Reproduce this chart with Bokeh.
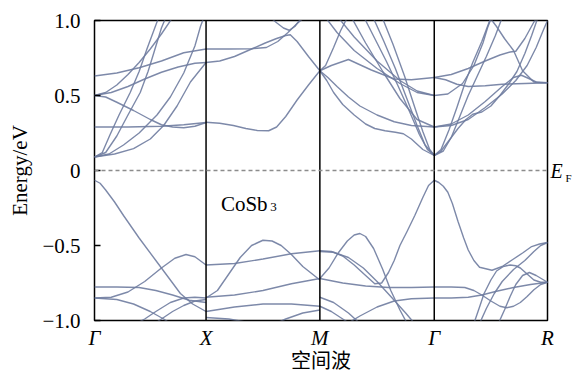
from bokeh.plotting import figure
from bokeh.models import Range1d, FixedTicker, Span, Label, LinearAxis
from bokeh.embed import file_html
from bokeh.resources import INLINE

# high-symmetry points along the k-path
K_POS = [0.0, 0.985, 1.99, 3.0, 4.0]
K_LABELS = ["Γ", "X", "M", "Γ", "R"]
Y_TICKS = [-1.0, -0.5, 0.0, 0.5, 1.0]
Y_LABELS = ["−1.0", "−0.5", "0", "0.5", "1.0"]

# bands per segment: (fraction along segment, energy in eV)
GX_BANDS = [
    ([0, 0.2, 0.4, 0.6, 0.8, 1.0], [0.63, 0.65, 0.685, 0.73, 0.785, 0.81]),
    ([0, 0.15, 0.3, 0.45, 0.6, 0.75, 0.9, 1.0], [0.50, 0.52, 0.56, 0.61, 0.655, 0.69, 0.715, 0.72]),
    ([0, 0.1, 0.2, 0.35, 0.5, 0.6, 0.7, 0.8, 0.9, 1.0], [0.50, 0.49, 0.455, 0.40, 0.34, 0.305, 0.29, 0.285, 0.295, 0.32]),
    ([0, 0.3, 0.6, 0.8, 1.0], [0.29, 0.29, 0.295, 0.305, 0.32]),
    ([0, 0.07, 0.14, 0.22, 0.32, 0.4, 0.47, 0.53, 0.58], [0.09, 0.12, 0.24, 0.37, 0.52, 0.66, 0.81, 0.93, 1.03]),
    ([0, 0.1, 0.2, 0.3, 0.41, 0.48, 0.53, 0.6, 0.65], [0.09, 0.12, 0.23, 0.37, 0.52, 0.66, 0.78, 0.95, 1.04]),
    ([0, 0.13, 0.26, 0.4, 0.56, 0.68, 0.8, 0.9, 0.95, 1.0], [0.09, 0.11, 0.17, 0.25, 0.37, 0.49, 0.65, 0.83, 0.96, 1.06]),
    ([0, 0.18, 0.35, 0.5, 0.62, 0.74, 0.86, 1.0], [0.09, 0.11, 0.146, 0.21, 0.30, 0.43, 0.59, 0.72]),
    ([0, 0.1, 0.2, 0.3, 0.4, 0.5, 0.6, 0.7], [0.50, 0.52, 0.57, 0.64, 0.72, 0.81, 0.91, 1.02]),
    ([0, 0.05, 0.1, 0.18, 0.26, 0.4, 0.56, 0.7, 0.77, 0.88, 1.0], [-0.065, -0.085, -0.13, -0.21, -0.30, -0.45, -0.61, -0.75, -0.82, -0.89, -0.94]),
    ([0, 0.2, 0.4, 0.55, 0.7, 0.85, 1.0], [-0.777, -0.777, -0.78, -0.80, -0.83, -0.865, -0.88]),
    ([0, 0.15, 0.3, 0.45, 0.6, 0.72, 0.82, 0.9, 1.0], [-0.85, -0.845, -0.81, -0.74, -0.65, -0.585, -0.56, -0.575, -0.63]),
    ([0, 0.2, 0.35, 0.5, 0.62, 0.7], [-0.85, -0.86, -0.89, -0.94, -0.99, -1.03]),
    ([0.35, 0.45, 0.55, 0.68, 0.8, 0.9, 1.0], [-1.03, -0.99, -0.94, -0.88, -0.85, -0.845, -0.85]),
    ([0.5, 0.6, 0.7, 0.8, 0.9, 1.0], [-1.04, -0.99, -0.94, -0.90, -0.87, -0.86]),
]

XM_BANDS = [
    ([0, 0.12, 0.25, 0.4, 0.52, 0.62, 0.7, 0.74, 0.8, 0.9, 1.0], [0.72, 0.73, 0.76, 0.81, 0.85, 0.88, 0.90, 0.905, 0.86, 0.76, 0.665]),
    ([0, 0.2, 0.4, 0.53, 0.63, 0.72, 0.8, 0.88], [0.81, 0.81, 0.812, 0.82, 0.86, 0.92, 0.98, 1.03]),
    ([0.55, 0.62, 0.68, 0.73, 0.78, 0.84], [1.03, 0.985, 0.95, 0.935, 0.96, 1.02]),
    ([0, 0.12, 0.24, 0.35, 0.45, 0.55, 0.62, 0.7, 0.8, 0.9, 1.0], [0.322, 0.315, 0.30, 0.28, 0.267, 0.265, 0.29, 0.36, 0.47, 0.57, 0.665]),
    ([0, 0.1, 0.2, 0.3, 0.4, 0.5, 0.58, 0.66, 0.75, 0.85, 1.0], [-0.85, -0.80, -0.69, -0.58, -0.50, -0.465, -0.47, -0.50, -0.56, -0.64, -0.73]),
    ([0, 0.25, 0.5, 0.75, 1.0], [-0.63, -0.62, -0.59, -0.555, -0.535]),
    ([0, 0.25, 0.5, 0.75, 1.0], [-0.845, -0.83, -0.80, -0.755, -0.72]),
    ([0, 0.25, 0.5, 0.75, 1.0], [-0.94, -0.91, -0.89, -0.89, -0.905]),
    ([0, 0.2, 0.35, 0.5], [-0.98, -0.99, -1.01, -1.04]),
    ([0.55, 0.7, 0.85, 1.0], [-1.04, -0.99, -0.95, -0.93]),
]

MG_BANDS = [
    ([0, 0.05, 0.12, 0.18, 0.24], [0.665, 0.70, 0.82, 0.93, 1.02]),
    ([0.05, 0.15, 0.3, 0.5, 0.7, 0.85, 1.0], [1.02, 0.92, 0.80, 0.68, 0.58, 0.52, 0.50]),
    ([0.15, 0.3, 0.5, 0.7, 0.85, 1.0], [1.03, 0.89, 0.73, 0.60, 0.53, 0.50]),
    ([0, 0.1, 0.25, 0.45, 0.65, 0.8, 1.0], [0.665, 0.70, 0.74, 0.67, 0.61, 0.605, 0.62]),
    ([0, 0.07, 0.15, 0.25, 0.35, 0.5, 0.65, 0.8, 1.0], [0.665, 0.62, 0.56, 0.49, 0.43, 0.37, 0.325, 0.30, 0.29]),
    ([0, 0.06, 0.12, 0.2, 0.3, 0.4, 0.48, 0.57, 0.66, 0.73, 0.8, 0.9, 1.0], [0.665, 0.60, 0.52, 0.44, 0.37, 0.31, 0.28, 0.265, 0.255, 0.245, 0.21, 0.14, 0.10]),
    ([0.38, 0.48, 0.58, 0.68, 0.78, 0.87, 0.94, 1.0], [1.03, 0.88, 0.73, 0.57, 0.40, 0.24, 0.14, 0.10]),
    ([0.46, 0.56, 0.66, 0.76, 0.85, 0.92, 1.0], [1.03, 0.86, 0.68, 0.48, 0.30, 0.17, 0.10]),
    ([0.54, 0.64, 0.74, 0.83, 0.9, 0.96, 1.0], [1.03, 0.84, 0.63, 0.42, 0.26, 0.14, 0.10]),
    ([0.27, 0.4, 0.55, 0.7, 0.85, 1.0], [1.03, 0.85, 0.66, 0.48, 0.34, 0.29]),
    ([0, 0.1, 0.2, 0.3, 0.4, 0.48, 0.54, 0.6, 0.65, 0.7, 0.76, 0.83, 0.9, 0.95, 1.0], [-0.535, -0.54, -0.57, -0.63, -0.70, -0.755, -0.75, -0.68, -0.60, -0.50, -0.41, -0.30, -0.18, -0.10, -0.065]),
    ([0, 0.08, 0.16, 0.24, 0.3, 0.35, 0.4, 0.47, 0.55, 0.62, 0.7, 0.77], [-0.72, -0.65, -0.55, -0.47, -0.43, -0.42, -0.44, -0.52, -0.66, -0.80, -0.93, -1.03]),
    ([0, 0.12, 0.25, 0.38, 0.5, 0.62, 0.75, 0.85], [-0.54, -0.545, -0.58, -0.65, -0.74, -0.84, -0.95, -1.04]),
    ([0, 0.2, 0.4, 0.6, 0.8, 1.0], [-0.72, -0.75, -0.77, -0.78, -0.78, -0.777]),
    ([0.22, 0.35, 0.5, 0.65, 0.8, 1.0], [-1.03, -0.97, -0.91, -0.87, -0.855, -0.85]),
    ([0, 0.12, 0.25, 0.38], [-0.845, -0.88, -0.95, -1.04]),
    ([0, 0.1, 0.2, 0.3], [-0.905, -0.94, -0.99, -1.04]),
]

GR_BANDS = [
    ([0, 0.06, 0.13, 0.2, 0.27, 0.34, 0.42, 0.5], [0.10, 0.14, 0.27, 0.42, 0.58, 0.72, 0.86, 1.02]),
    ([0, 0.08, 0.15, 0.22, 0.3, 0.38, 0.46, 0.54, 0.6], [0.10, 0.13, 0.22, 0.35, 0.50, 0.63, 0.76, 0.90, 1.02]),
    ([0, 0.06, 0.12, 0.21, 0.28, 0.34, 0.42, 0.5, 0.58, 0.66, 0.73, 0.8, 0.86, 0.92], [0.10, 0.13, 0.19, 0.28, 0.34, 0.375, 0.39, 0.43, 0.50, 0.58, 0.66, 0.78, 0.90, 1.03]),
    ([0, 0.15, 0.3, 0.45, 0.6, 0.72, 0.82, 0.9, 0.96, 1.0], [0.29, 0.30, 0.34, 0.42, 0.51, 0.60, 0.70, 0.82, 0.93, 1.0]),
    ([0, 0.15, 0.3, 0.45, 0.6, 0.7, 0.77, 0.83, 0.9, 1.0], [0.29, 0.31, 0.37, 0.46, 0.56, 0.62, 0.635, 0.615, 0.59, 0.585]),
    ([0, 0.12, 0.25, 0.35, 0.43, 0.47, 0.5, 0.55, 0.62, 0.7, 0.78, 0.88, 0.94, 1.0], [0.50, 0.51, 0.58, 0.70, 0.85, 0.95, 1.01, 0.96, 0.88, 0.80, 0.665, 0.59, 0.585, 0.585]),
    ([0, 0.15, 0.3, 0.45, 0.58, 0.67, 0.72, 0.8, 0.88, 0.93], [0.62, 0.64, 0.68, 0.73, 0.77, 0.79, 0.795, 0.88, 0.99, 1.04]),
    ([0, 0.1, 0.2, 0.3, 0.45, 0.6, 0.8, 1.0], [0.62, 0.605, 0.575, 0.56, 0.565, 0.575, 0.58, 0.585]),
    ([0, 0.04, 0.08, 0.12, 0.16, 0.21, 0.26, 0.3, 0.35, 0.4, 0.51, 0.6, 0.69, 0.78, 0.86, 0.93, 1.0], [-0.065, -0.08, -0.105, -0.145, -0.22, -0.34, -0.45, -0.53, -0.60, -0.645, -0.665, -0.64, -0.595, -0.55, -0.507, -0.49, -0.48]),
    ([0.35, 0.4, 0.44, 0.5, 0.55, 0.61, 0.67, 0.72, 0.76, 0.82, 0.88, 0.94, 1.0], [-1.02, -0.91, -0.82, -0.73, -0.67, -0.64, -0.63, -0.635, -0.65, -0.69, -0.73, -0.745, -0.745]),
    ([0.4, 0.46, 0.53, 0.6, 0.7, 0.8, 0.88, 0.94, 1.0], [-1.02, -0.92, -0.82, -0.74, -0.66, -0.60, -0.54, -0.50, -0.48]),
    ([0.56, 0.62, 0.67, 0.72, 0.78, 0.84, 0.9, 1.0], [-1.03, -0.93, -0.84, -0.76, -0.70, -0.68, -0.70, -0.745]),
    ([0, 0.15, 0.27, 0.35, 0.42, 0.5, 0.58, 0.64, 0.7, 0.76, 0.82, 0.88, 0.94, 1.0], [-0.777, -0.777, -0.78, -0.80, -0.83, -0.87, -0.905, -0.915, -0.905, -0.88, -0.84, -0.795, -0.76, -0.745]),
    ([0, 0.15, 0.3, 0.42, 0.55, 0.7, 0.85, 1.0], [-0.85, -0.85, -0.845, -0.83, -0.805, -0.78, -0.76, -0.745]),
]

SEGMENTS = [GX_BANDS, XM_BANDS, MG_BANDS, GR_BANDS]

p = figure(width=574, height=374, x_range=Range1d(0, 4), y_range=Range1d(-1, 1),
           output_backend="svg", toolbar_location=None,
           min_border_left=94, min_border_right=26, min_border_top=20, min_border_bottom=53)
p.background_fill_color = "white"
p.border_fill_color = "white"
p.outline_line_color = "black"
p.outline_line_width = 1.5
p.xgrid.visible = False
p.ygrid.visible = False

xs_all, ys_all = [], []
for i, bands in enumerate(SEGMENTS):
    k0, k1 = K_POS[i], K_POS[i + 1]
    for t, e in bands:
        xs_all.append([k0 + ti * (k1 - k0) for ti in t])
        ys_all.append(list(e))
p.multi_line(xs_all, ys_all, line_color="#6f7ca0", line_width=1.4, line_alpha=0.9, line_join="round")

for k in K_POS[1:4]:
    p.add_layout(Span(location=k, dimension="height", line_color="black", line_width=1.5))
p.add_layout(Span(location=0, dimension="width", line_color="#8c8c8c", line_width=1.3, line_dash="4 3"))

serif = "Liberation Serif"
p.yaxis.ticker = FixedTicker(ticks=Y_TICKS)
p.yaxis.major_label_overrides = {v: s for v, s in zip(Y_TICKS, Y_LABELS)}
p.yaxis.axis_line_color = None
p.yaxis.major_tick_in = 6
p.yaxis.major_tick_out = 0
p.yaxis.minor_tick_in = 0
p.yaxis.minor_tick_out = 0
p.yaxis.major_tick_line_width = 1.5
p.yaxis.minor_tick_line_color = None
p.yaxis.major_label_standoff = 14
p.yaxis.major_label_text_font = serif
p.yaxis.major_label_text_font_size = "21px"
p.yaxis.major_label_text_color = "black"
p.yaxis.axis_label = "Energy/eV"
p.yaxis.axis_label_text_font = serif
p.yaxis.axis_label_text_font_style = "normal"
p.yaxis.axis_label_text_font_size = "21px"
p.yaxis.axis_label_text_color = "black"
p.yaxis.axis_label_standoff = 7

p.xaxis.ticker = FixedTicker(ticks=K_POS)
p.xaxis.major_label_overrides = {v: s for v, s in zip(K_POS, K_LABELS)}
p.xaxis.axis_line_color = None
p.xaxis.major_tick_line_color = None
p.xaxis.minor_tick_line_color = None
p.xaxis.major_tick_in = 0
p.xaxis.major_tick_out = 0
p.xaxis.minor_tick_in = 0
p.xaxis.minor_tick_out = 0
p.xaxis.major_label_standoff = 5
p.xaxis.major_label_text_font = serif
p.xaxis.major_label_text_font_style = "italic"
p.xaxis.major_label_text_font_size = "21px"
p.xaxis.major_label_text_color = "black"
p.xaxis.axis_label = "空间波"
p.xaxis.axis_label_text_font = "Liberation Serif, Noto Sans CJK SC"
p.xaxis.axis_label_text_font_style = "normal"
p.xaxis.axis_label_text_font_size = "20px"
p.xaxis.axis_label_text_color = "black"
p.xaxis.axis_label_standoff = -3

# Fermi level mark on the right
def side_label(tick, text, size, style, standoff):
    ax = LinearAxis(ticker=FixedTicker(ticks=[tick]), major_label_overrides={tick: text},
                    axis_line_color=None, major_tick_line_color=None, minor_tick_line_color=None,
                    major_tick_in=0, major_tick_out=0, minor_tick_in=0, minor_tick_out=0,
                    major_label_standoff=standoff, major_label_text_font=serif,
                    major_label_text_font_style=style, major_label_text_font_size=size,
                    major_label_text_color="black")
    p.add_layout(ax, "right")

side_label(0.0, "E", "20px", "italic", 3)
side_label(-0.052, "F", "11px", "normal", 0)

p.add_layout(Label(x=1.116, y=-0.225, text="CoSb", text_font=serif, text_font_size="21px",
                   text_color="black", text_baseline="alphabetic"))
p.add_layout(Label(x=1.551, y=-0.245, text="3", text_font=serif, text_font_size="13px",
                   text_color="black", text_baseline="alphabetic"))

open("out.html", "w").write(file_html(p, INLINE))
